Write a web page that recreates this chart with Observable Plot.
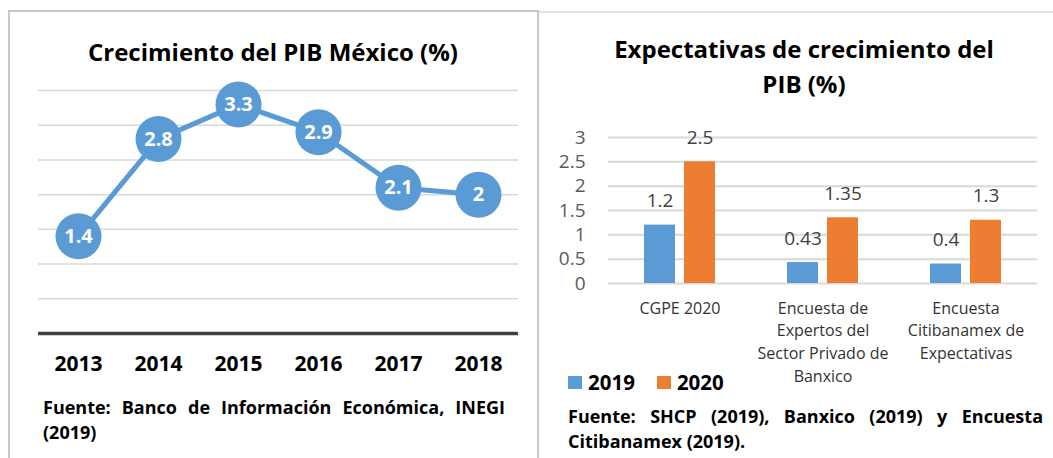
<!DOCTYPE html>
<html>
<head>
<meta charset="utf-8">
<script src="https://cdn.jsdelivr.net/npm/d3@7"></script>
<script src="https://cdn.jsdelivr.net/npm/@observablehq/plot@0.6"></script>
<style>
  html, body { margin: 0; padding: 0; background: #fff; }
  body { width: 1053px; height: 458px; position: relative; overflow: hidden; font-family: "Open Sans", Lato, sans-serif; }
  .abs { position: absolute; }
  .title { font-weight: bold; color: #000; text-align: center; font-size: 24px; }
  .cap { font-weight: bold; color: #000; font-size: 18px; line-height: 25px; }
  .just { text-align: justify; text-align-last: justify; }
  .leg { font-weight: bold; font-size: 20.5px; color: #000; display: flex; align-items: center; }
  .sw { width: 14px; height: 13px; display: inline-block; margin-right: 6px; }
</style>
</head>
<body>
<div class="abs" style="left:8px;top:10px;width:2px;height:448px;background:#c8c8c8"></div>
<div class="abs" style="left:8px;top:10px;width:531px;height:2px;background:#c8c8c8"></div>
<div class="abs" style="left:537px;top:10px;width:2px;height:448px;background:#c8c8c8"></div>
<div class="abs" style="left:539px;top:11px;width:514px;height:2px;background:#e2e2e2"></div>

<div id="left" class="abs" style="left:0;top:70px"></div>
<div id="right" class="abs" style="left:540px;top:110px"></div>

<div class="abs title" style="left:8px;top:36px;width:530px;line-height:32px">Crecimiento del PIB México (%)</div>
<div class="abs title" style="left:574px;top:31px;width:460px;line-height:35px">Expectativas de crecimiento del<br>PIB (%)</div>

<div class="abs cap" style="left:43px;top:395px;width:462px">
  <div class="just">Fuente: Banco de Información Económica, INEGI</div>
  <div>(2019)</div>
</div>
<div class="abs cap" style="left:568px;top:404px;width:475px">
  <div class="just">Fuente: SHCP (2019), Banxico (2019) y Encuesta</div>
  <div>Citibanamex (2019).</div>
</div>

<div id="legend" class="abs leg" style="left:568px;top:369px;height:26px"></div>

<script>
// ---- Data ----
const years = ["2013", "2014", "2015", "2016", "2017", "2018"];
const pib = [1.4, 2.8, 3.3, 2.9, 2.1, 2.0];
const pibLabels = ["1.4", "2.8", "3.3", "2.9", "2.1", "2"];
const pibGrid = [0.5, 1, 1.5, 2, 2.5, 3, 3.5];

const categories = [
  "CGPE 2020",
  "Encuesta de\nExpertos del\nSector Privado de\nBanxico",
  "Encuesta\nCitibanamex de\nExpectativas"
];
const series = ["2019", "2020"];
const values2019 = [1.2, 0.43, 0.4];
const values2020 = [2.5, 1.35, 1.3];
const barTicks = [0, 0.5, 1, 1.5, 2, 2.5, 3];
const colors = ["#5B9BD5", "#ED7D31"];

const FONT = "'Open Sans', Lato, sans-serif";

// ---- Left chart ----
const lineData = years.map((y, i) => ({year: y, value: pib[i], label: pibLabels[i]}));
const left = Plot.plot({
  width: 530, height: 320,
  marginTop: 20, marginBottom: 57, marginLeft: 38, marginRight: 12,
  style: {background: "none", fontFamily: FONT, overflow: "visible"},
  x: {type: "point", domain: years, padding: 0.5, label: null},
  y: {domain: [0, 3.5], axis: null},
  marks: [
    Plot.ruleY(pibGrid, {stroke: "#d9d9d9", strokeWidth: 1.5}),
    Plot.ruleY([0], {stroke: "#404040", strokeWidth: 3.5}),
    Plot.line(lineData, {x: "year", y: "value", stroke: colors[0], strokeWidth: 5}),
    Plot.dot(lineData, {x: "year", y: "value", r: 23, fill: colors[0]}),
    Plot.text(lineData, {x: "year", y: "value", text: "label", fill: "white", fontSize: 20, fontWeight: "bold"}),
    Plot.axisX({tickSize: 0, tickPadding: 23, fontSize: 21, fontWeight: "bold", fill: "#000", label: null})
  ]
});
document.getElementById("left").appendChild(left);

// ---- Right chart ----
const barData = categories.flatMap((c, i) => [
  {category: c, year: series[0], value: values2019[i]},
  {category: c, year: series[1], value: values2020[i]}
]);
const right = Plot.plot({
  width: 513, height: 280,
  marginTop: 27, marginBottom: 107, marginLeft: 68, marginRight: 16,
  style: {background: "none", fontFamily: FONT, overflow: "visible"},
  fx: {domain: categories, padding: 0, label: null},
  x: {domain: series, paddingInner: 0.22, paddingOuter: 0.854, axis: null},
  y: {domain: [0, 3], label: null},
  color: {domain: series, range: colors},
  marks: [
    Plot.ruleY(barTicks, {stroke: "#d9d9d9", strokeWidth: 2}),
    Plot.barY(barData, {fx: "category", x: "year", y: "value", fill: "year"}),
    Plot.text(barData, {fx: "category", x: "year", y: "value", text: d => String(d.value), dy: -24, fontSize: 19, fill: "#404040"}),
    Plot.axisY({ticks: barTicks, tickSize: 0, tickPadding: 23, fontSize: 19, fill: "#595959", tickFormat: d => String(d), label: null}),
    Plot.axisFx({anchor: "bottom", tickSize: 0, tickPadding: 14, fontSize: 16, fill: "#333", lineHeight: 1.42, label: null})
  ]
});
document.getElementById("right").appendChild(right);

// ---- Legend ----
const leg = document.getElementById("legend");
series.forEach((s, i) => {
  const item = document.createElement("span");
  item.style.display = "inline-flex";
  item.style.alignItems = "center";
  item.style.marginRight = i === 0 ? "22px" : "0";
  item.innerHTML = `<span class="sw" style="background:${colors[i]}"></span>${s}`;
  leg.appendChild(item);
});
</script>
</body>
</html>
